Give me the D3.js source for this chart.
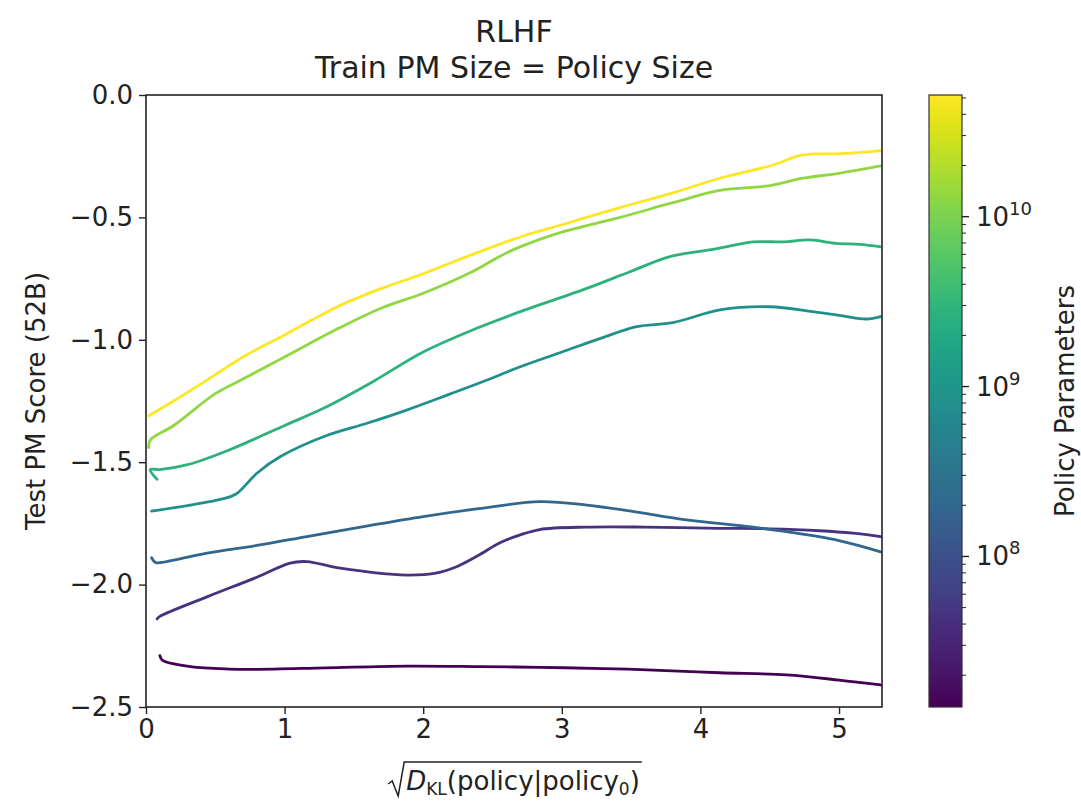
<!DOCTYPE html>
<html>
<head>
<meta charset="utf-8">
<script src="https://cdn.jsdelivr.net/npm/d3@7"></script>
<style>
  body { margin: 0; background: #fff; }
  svg { display: block; font-family: "DejaVu Sans", sans-serif; }
</style>
</head>
<body>
<svg id="chart" width="1081" height="804"></svg>
<script>
// ---------------- data ----------------
const policySizes = [13e6, 42e6, 197e6, 810e6, 2.7e9, 13e9, 52e9];
const seriesNames = ["13M", "42M", "197M", "810M", "2.7B", "13B", "52B"];

const kl13M = [[0.10,-2.29],[0.12,-2.31],[0.32,-2.335],[0.6,-2.345],[0.8,-2.346],[1.3,-2.34],[1.88,-2.333],[2.4,-2.335],[2.84,-2.338],[3.3,-2.343],[3.66,-2.349],[4.14,-2.36],[4.62,-2.369],[5.0,-2.39],[5.30,-2.41]];
const kl42M = [[0.08,-2.14],[0.10,-2.13],[0.44,-2.05],[0.8,-1.97],[1.04,-1.912],[1.16,-1.906],[1.4,-1.933],[1.88,-1.961],[2.1,-1.952],[2.24,-1.927],[2.4,-1.88],[2.55,-1.83],[2.7,-1.797],[2.84,-1.775],[3.18,-1.765],[3.6,-1.765],[4.14,-1.770],[4.5,-1.772],[4.86,-1.78],[5.1,-1.79],[5.30,-1.804]];
const kl197M = [[0.04,-1.89],[0.07,-1.91],[0.2,-1.90],[0.44,-1.871],[0.8,-1.84],[1.16,-1.804],[1.6,-1.76],[2.0,-1.722],[2.4,-1.69],[2.84,-1.661],[3.18,-1.675],[3.5,-1.70],[3.9,-1.736],[4.3,-1.76],[4.62,-1.784],[5.0,-1.82],[5.30,-1.866]];
const kl810M = [[0.04,-1.70],[0.32,-1.675],[0.55,-1.65],[0.65,-1.63],[0.8,-1.545],[0.97,-1.477],[1.28,-1.396],[1.6,-1.34],[1.88,-1.287],[2.2,-1.22],[2.48,-1.16],[2.7,-1.11],[3.0,-1.05],[3.3,-0.99],[3.54,-0.946],[3.8,-0.93],[4.14,-0.878],[4.5,-0.865],[4.81,-0.885],[5.0,-0.90],[5.2,-0.915],[5.30,-0.905]];
const kl2_7B = [[0.08,-1.57],[0.03,-1.53],[0.1,-1.53],[0.3,-1.51],[0.6,-1.45],[1.0,-1.35],[1.28,-1.28],[1.64,-1.17],[2.0,-1.05],[2.4,-0.95],[2.7,-0.885],[3.18,-0.79],[3.5,-0.72],[3.78,-0.66],[4.1,-0.63],[4.38,-0.60],[4.6,-0.60],[4.79,-0.592],[4.98,-0.606],[5.15,-0.61],[5.30,-0.62]];
const kl13B = [[0.02,-1.44],[0.03,-1.41],[0.2,-1.35],[0.5,-1.22],[0.7,-1.16],[1.0,-1.07],[1.4,-0.95],[1.7,-0.87],[2.0,-0.81],[2.36,-0.72],[2.6,-0.645],[2.84,-0.59],[3.0,-0.56],[3.42,-0.50],[3.8,-0.44],[4.14,-0.39],[4.5,-0.37],[4.74,-0.34],[5.0,-0.32],[5.30,-0.29]];
const kl52B = [[0.02,-1.31],[0.2,-1.25],[0.44,-1.165],[0.7,-1.07],[1.0,-0.98],[1.4,-0.86],[1.7,-0.79],[2.0,-0.73],[2.36,-0.65],[2.7,-0.58],[3.0,-0.53],[3.42,-0.46],[3.8,-0.40],[4.14,-0.34],[4.5,-0.29],[4.74,-0.245],[5.0,-0.24],[5.30,-0.227]];
const seriesData = [kl13M, kl42M, kl197M, kl810M, kl2_7B, kl13B, kl52B];

const xTicks = [0, 1, 2, 3, 4, 5];
const yTicks = [-2.5, -2.0, -1.5, -1.0, -0.5, 0.0];
const cbMajorTicks = [1e8, 1e9, 1e10];
const cbExponents = ["8", "9", "10"];
const cbDomain = [13e6, 52e9];

// ---------------- layout ----------------
const svg = d3.select("#chart");
const plot = { left: 146, right: 882, top: 95, bottom: 707 };
const cb = { left: 929, right: 962, top: 95, bottom: 707 };
const font = 26;

const x = d3.scaleLinear().domain([0, 5.31]).range([plot.left, plot.right]);
const y = d3.scaleLinear().domain([-2.5, 0]).range([plot.bottom, plot.top]);
const cbScale = d3.scaleLog().domain(cbDomain).range([cb.bottom, cb.top]);
const colorNorm = d3.scaleLog().domain(cbDomain).range([0, 1]);
const color = s => d3.interpolateViridis(colorNorm(s));

const defs = svg.append("defs");
defs.append("clipPath").attr("id", "clip")
  .append("rect").attr("x", plot.left).attr("y", plot.top)
  .attr("width", plot.right - plot.left).attr("height", plot.bottom - plot.top);

// lines
const line = d3.line().x(d => x(d[0])).y(d => y(d[1])).curve(d3.curveCatmullRom.alpha(0.5));
svg.append("g").attr("clip-path", "url(#clip)")
  .selectAll("path").data(seriesData).join("path")
  .attr("d", line)
  .attr("fill", "none")
  .attr("stroke", (d, i) => color(policySizes[i]))
  .attr("stroke-width", 2.8)
  .attr("stroke-linejoin", "round")
  .attr("stroke-linecap", "round");

// axes
const xAxis = svg.append("g").attr("transform", `translate(0,${plot.bottom})`)
  .call(d3.axisBottom(x).tickValues(xTicks).tickFormat(d3.format("d")).tickSize(7).tickPadding(6));
const yAxis = svg.append("g").attr("transform", `translate(${plot.left},0)`)
  .call(d3.axisLeft(y).tickValues(yTicks).tickFormat(d3.format(".1f")).tickSize(7).tickPadding(6));
[xAxis, yAxis].forEach(a => {
  a.select(".domain").remove();
  a.selectAll(".tick line").attr("stroke", "#222").attr("stroke-width", 1.4);
  a.selectAll(".tick text").attr("font-size", font).attr("fill", "#222")
    .attr("font-family", "DejaVu Sans");
});

// spines
svg.append("rect").attr("x", plot.left).attr("y", plot.top)
  .attr("width", plot.right - plot.left).attr("height", plot.bottom - plot.top)
  .attr("fill", "none").attr("stroke", "#222").attr("stroke-width", 1.6);

// titles
svg.append("text").attr("x", (plot.left + plot.right) / 2).attr("y", 42)
  .attr("text-anchor", "middle").attr("font-size", 30).attr("fill", "#222").text("RLHF");
svg.append("text").attr("x", (plot.left + plot.right) / 2).attr("y", 78)
  .attr("text-anchor", "middle").attr("font-size", 30).attr("fill", "#222").text("Train PM Size = Policy Size");

// y label
svg.append("text").attr("transform", `translate(45,${(plot.top + plot.bottom) / 2}) rotate(-90)`)
  .attr("text-anchor", "middle").attr("font-size", font).attr("fill", "#222").text("Test PM Score (52B)");

// x label: sqrt(D_KL(policy|policy_0))
const xl = svg.append("g");
const xlText = xl.append("text").attr("x", 0).attr("y", 790).attr("font-size", font).attr("fill", "#222");
xlText.append("tspan").attr("font-style", "italic").text("D");
xlText.append("tspan").attr("font-size", 17).attr("dy", 5).text("KL");
xlText.append("tspan").attr("dy", -5).text("(policy|policy");
xlText.append("tspan").attr("font-size", 17).attr("dy", 5).text("0");
xlText.append("tspan").attr("dy", -5).text(")");
const labW = xlText.node().getComputedTextLength();
const rootW = 18;
const totalW = labW + rootW;
const startX = (plot.left + plot.right) / 2 - totalW / 2;
xlText.attr("x", startX + rootW);
const rTop = 762, rBase = 796;
xl.append("path")
  .attr("d", `M${startX},${rBase - 12} L${startX + 4},${rBase - 15} L${startX + 10},${rBase} L${startX + 16},${rTop} L${startX + totalW + 2},${rTop}`)
  .attr("fill", "none").attr("stroke", "#222").attr("stroke-width", 1.5);

// colorbar
const grad = defs.append("linearGradient").attr("id", "viridis")
  .attr("x1", 0).attr("y1", 1).attr("x2", 0).attr("y2", 0);
d3.range(0, 1.0001, 0.02).forEach(t => {
  grad.append("stop").attr("offset", t).attr("stop-color", d3.interpolateViridis(t));
});
svg.append("rect").attr("x", cb.left).attr("y", cb.top)
  .attr("width", cb.right - cb.left).attr("height", cb.bottom - cb.top)
  .attr("fill", "url(#viridis)").attr("stroke", "#333").attr("stroke-width", 1.2);

const minor = [];
for (let e = 7; e <= 10; e++) for (let m = 2; m <= 9; m++) {
  const v = m * Math.pow(10, e);
  if (v >= cbDomain[0] && v <= cbDomain[1]) minor.push(v);
}
svg.append("g").selectAll("line").data(minor).join("line")
  .attr("x1", cb.right).attr("x2", cb.right + 4)
  .attr("y1", d => cbScale(d)).attr("y2", d => cbScale(d))
  .attr("stroke", "#222").attr("stroke-width", 1);
svg.append("g").selectAll("line").data(cbMajorTicks).join("line")
  .attr("x1", cb.right).attr("x2", cb.right + 7)
  .attr("y1", d => cbScale(d)).attr("y2", d => cbScale(d))
  .attr("stroke", "#222").attr("stroke-width", 1.4);
const cbLab = svg.append("g").selectAll("text").data(cbMajorTicks).join("text")
  .attr("x", cb.right + 14).attr("y", d => cbScale(d) + 9)
  .attr("font-size", font).attr("fill", "#222");
cbLab.append("tspan").text("10");
cbLab.append("tspan").attr("font-size", 18).attr("dy", -11).text((d, i) => cbExponents[i]);

svg.append("text").attr("transform", `translate(1074,${(cb.top + cb.bottom) / 2}) rotate(-90)`)
  .attr("text-anchor", "middle").attr("font-size", font).attr("fill", "#222").text("Policy Parameters");
</script>
</body>
</html>
